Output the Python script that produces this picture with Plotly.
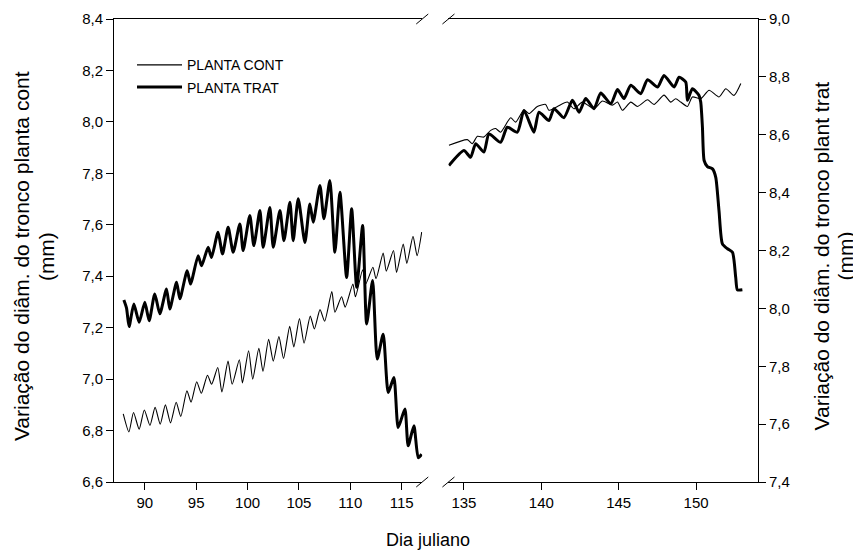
import plotly.graph_objects as go

# ---------------- data ----------------
# PLANTA CONT (left axis), first period
cont_day_a = [87.9, 88.45, 88.9, 89.45, 89.95, 90.5, 91.0, 91.5, 92.0, 92.5, 93.05, 93.5,
              94.1, 94.5, 95.05, 95.5, 96.1, 96.5, 97.1, 97.5, 98.1, 98.5, 99.2, 99.5,
              100.1, 100.5, 101.1, 101.5, 102.05, 102.5, 103.05, 103.5, 104.1, 104.5,
              105.05, 105.5, 106.1, 106.5, 107.05, 107.5, 108.2, 108.5, 109.15, 109.5,
              110.25, 110.5, 111.2, 111.5, 112.2, 112.5, 113.2, 113.5, 114.2, 114.5,
              115.15, 115.5, 116.1, 116.5, 116.95]
cont_val_a = [6.865, 6.795, 6.87, 6.805, 6.88, 6.82, 6.89, 6.825, 6.90, 6.83, 6.91, 6.855,
              6.955, 6.91, 6.99, 6.945, 7.015, 6.98, 7.045, 6.95, 7.07, 6.98, 7.075, 6.985,
              7.11, 7.0, 7.12, 7.03, 7.155, 7.07, 7.165, 7.08, 7.205, 7.125,
              7.235, 7.14, 7.245, 7.195, 7.27, 7.225, 7.34, 7.26, 7.32, 7.28,
              7.37, 7.32, 7.425, 7.37, 7.435, 7.39, 7.49, 7.42, 7.50, 7.415,
              7.525, 7.45, 7.555, 7.48, 7.572]

# PLANTA CONT (left axis), second period
cont_day_b = [134.03, 135.22, 135.54, 135.87, 136.29, 136.73, 137.05, 137.37, 138.02, 138.34,
              138.88, 139.2, 139.74, 140.28, 140.49, 141.04, 141.68, 142.11, 142.65, 143.4,
              143.95, 144.59, 144.92, 145.24, 145.78, 146.21, 146.86, 147.28, 147.93, 148.36,
              148.68, 149.01, 149.44, 149.76, 150.3, 150.84, 151.48, 151.92, 152.45, 152.89]
cont_val_b = [7.909, 7.931, 7.915, 7.944, 7.941, 7.967, 7.974, 7.960, 8.016, 7.999,
              8.047, 8.032, 8.060, 8.068, 8.045, 8.060, 8.077, 8.051, 8.077, 8.051,
              8.081, 8.065, 8.077, 8.045, 8.077, 8.060, 8.086, 8.068, 8.104, 8.077,
              8.090, 8.077, 8.060, 8.097, 8.090, 8.123, 8.097, 8.129, 8.103, 8.149]

# PLANTA TRAT (right axis), first period
trat_day_a = [87.96, 88.22, 88.47, 88.93, 89.45, 90.0, 90.42, 90.97, 91.46, 92.11, 92.43,
              93.09, 93.41, 94.12, 94.45, 95.19, 95.52, 96.16, 96.49, 97.13, 97.56, 98.11,
              98.6, 99.25, 99.57, 100.22, 100.61, 101.2, 101.52, 102.17, 102.5, 103.15,
              103.54, 104.12, 104.44, 104.93, 105.58, 106.06, 106.39, 107.04, 107.43,
              108.01, 108.5, 108.99, 109.64, 110.13, 110.62, 111.2, 111.59, 112.17,
              112.62, 113.2, 113.69, 114.24, 114.66, 115.31, 115.63, 116.19, 116.61, 116.95]
trat_val_a = [8.029, 8.001, 7.937, 8.015, 7.952, 8.021, 7.957, 8.050, 7.981, 8.067, 7.998,
              8.090, 8.033, 8.130, 8.084, 8.182, 8.147, 8.211, 8.176, 8.263, 8.188, 8.280,
              8.194, 8.292, 8.200, 8.321, 8.217, 8.338, 8.211, 8.349, 8.211, 8.338,
              8.234, 8.367, 8.234, 8.379, 8.228, 8.361, 8.298, 8.425, 8.310,
              8.442, 8.194, 8.401, 8.107, 8.344, 8.073, 8.286, 7.946, 8.096,
              7.825, 7.911, 7.709, 7.761, 7.588, 7.652, 7.525, 7.594, 7.484, 7.496]

# PLANTA TRAT (right axis), second period
trat_day_b = [134.03, 135.0, 135.43, 135.76, 136.29, 136.62, 137.37, 137.8, 138.45, 138.88,
              139.52, 139.85, 140.49, 140.82, 141.46, 142.01, 142.44, 142.87, 143.4, 143.84,
              144.49, 144.92, 145.34, 145.78, 146.42, 146.86, 147.51, 147.93, 148.58, 148.9,
              149.33, 149.44, 149.76, 150.19, 150.3, 150.41, 150.52, 150.73, 151.06, 151.27,
              151.48, 151.7, 152.03, 152.35, 152.56, 152.67, 152.99]
trat_val_b = [8.494, 8.546, 8.522, 8.569, 8.540, 8.603, 8.574, 8.626, 8.609, 8.684,
              8.609, 8.678, 8.649, 8.690, 8.659, 8.719, 8.678, 8.725, 8.690, 8.744,
              8.707, 8.756, 8.725, 8.771, 8.742, 8.790, 8.765, 8.805, 8.765, 8.799,
              8.782, 8.719, 8.759, 8.736, 8.713, 8.626, 8.511, 8.490, 8.482, 8.453,
              8.338, 8.223, 8.206, 8.194, 8.107, 8.064, 8.064]

left_ticks = [6.6, 6.8, 7.0, 7.2, 7.4, 7.6, 7.8, 8.0, 8.2, 8.4]
right_ticks = [7.4, 7.6, 7.8, 8.0, 8.2, 8.4, 8.6, 8.8, 9.0]
xticks_a = [90, 95, 100, 105, 110, 115]
xticks_b = [135, 140, 145, 150]

# ---------------- figure ----------------
OFF = 8  # page body margin of the html page
W, H = 853, 550
L, T = 114 - OFF, 18.7 - OFF
R = W - (757.7 - OFF)
B = H - (482 - OFF)
pw = W - L - R
ph = H - T - B

def px(x):  # page pixel -> paper fraction
    return (x - OFF - L) / pw

def py(y):
    return 1 - (y - OFF - T) / ph

FONT = "Liberation Sans, Arial, sans-serif"
thin = dict(color="black", width=1.1, shape="spline", smoothing=0.6)
thick = dict(color="black", width=3, shape="spline", smoothing=0.6)

fig = go.Figure()
fig.add_trace(go.Scatter(x=cont_day_a, y=cont_val_a, xaxis="x", yaxis="y", mode="lines",
                         line=thin, name="PLANTA CONT", legendgroup="c"))
fig.add_trace(go.Scatter(x=cont_day_b, y=cont_val_b, xaxis="x2", yaxis="y", mode="lines",
                         line=thin, name="PLANTA CONT", legendgroup="c", showlegend=False))
fig.add_trace(go.Scatter(x=trat_day_a, y=trat_val_a, xaxis="x", yaxis="y2", mode="lines",
                         line=thick, name="PLANTA TRAT", legendgroup="t"))
fig.add_trace(go.Scatter(x=trat_day_b, y=trat_val_b, xaxis="x2", yaxis="y2", mode="lines",
                         line=thick, name="PLANTA TRAT", legendgroup="t", showlegend=False))

axis_common = dict(showgrid=False, zeroline=False, showline=True, linecolor="black",
                   linewidth=1, ticks="outside", ticklen=7, tickcolor="black",
                   tickfont=dict(family=FONT, size=15, color="black"))

d_a_end = px(422.1)
d_b_start = px(448.3)

fig.update_layout(
    width=W, height=H,
    margin=dict(l=L, r=R, t=T, b=B, autoexpand=False),
    paper_bgcolor="white", plot_bgcolor="white",
    separators=",.",
    font=dict(family=FONT, size=15, color="black"),
    showlegend=True,
    legend=dict(x=px(132), y=py(49), xanchor="left", yanchor="top", itemwidth=45,
                bgcolor="rgba(0,0,0,0)", font=dict(family=FONT, size=14, color="black"),
                tracegroupgap=1),
    xaxis=dict(domain=[0, d_a_end], range=[87, 117], tickvals=xticks_a, anchor="y",
               mirror=True, **axis_common),
    xaxis2=dict(domain=[d_b_start, 1], range=[134, 154], tickvals=xticks_b, anchor="y",
                mirror=True, **axis_common),
    yaxis=dict(domain=[0, 1], range=[6.6, 8.4], tickvals=left_ticks, tickformat=".1f",
               anchor="x", **axis_common),
    yaxis2=dict(domain=[0, 1], range=[7.4, 9.0], tickvals=right_ticks, tickformat=".1f",
                overlaying="y", side="right", anchor="x2", **axis_common),
)

# axis titles (one annotation per line for exact placement)
TF = dict(family=FONT, size=21, color="black")
for txt, xp in (("Variação do diâm. do tronco planta cont", 21), ("(mm)", 46),
                ("Variação do diâm. do tronco plant trat", 821), ("(mm)", 845)):
    fig.add_annotation(text=txt, xref="paper", yref="paper", x=px(xp), y=py(256),
                       textangle=-90, showarrow=False, font=TF,
                       xanchor="center", yanchor="middle")
fig.add_annotation(text="Dia juliano", xref="paper", yref="paper", x=px(428), y=py(540),
                   showarrow=False, font=dict(family=FONT, size=18, color="black"),
                   xanchor="center", yanchor="middle")

# axis-break marks (decoration)
for yb in (482, 18.7):
    for xc in (422.1, 448.3):
        fig.add_shape(type="line", xref="paper", yref="paper",
                      x0=px(xc - 6), y0=py(yb + 5), x1=px(xc + 6), y1=py(yb - 5),
                      line=dict(color="black", width=1))

fig.write_html("out.html")
